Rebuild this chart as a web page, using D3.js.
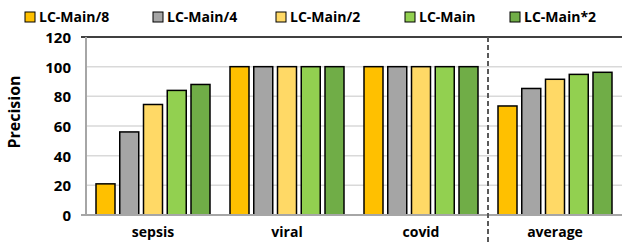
<!DOCTYPE html>
<html><head><meta charset="utf-8">
<script src="https://cdn.jsdelivr.net/npm/d3@7"></script>
<style>body{margin:0;background:#fff}svg{display:block}text{font-family:"Open Sans",sans-serif;font-weight:bold;fill:#000}</style>
</head><body><svg id="c" width="622" height="243"></svg>
<script>
const categories = ["sepsis","viral","covid","average"];
const seriesNames = ["LC-Main/8","LC-Main/4","LC-Main/2","LC-Main","LC-Main*2"];
const seriesColors = ["#FFC000","#A5A5A5","#FFD966","#92D050","#70AD47"];
const sepsis  = [21, 56, 74.5, 84, 88];
const viral   = [100, 100, 100, 100, 100];
const covid   = [100, 100, 100, 100, 100];
const average = [73.5, 85.3, 91.5, 94.8, 96.2];
const yTicks = [0, 20, 40, 60, 80, 100, 120];
const values = [sepsis, viral, covid, average];

const svg = d3.select("#c");
const L = 86, R = 622, T = 37, B = 215;
const x0 = d3.scaleBand().domain(categories).range([L, R]).padding(0);
const x1 = d3.scaleBand().domain(seriesNames).range([10, x0.bandwidth() - 10]).paddingInner(0.2);
const y = d3.scaleLinear().domain([0, 120]).range([B, T]);

// gridlines
svg.append("g").selectAll("line").data(yTicks.filter(t => t > 0 && t < 120)).join("line")
  .attr("x1", L).attr("x2", R).attr("y1", d => y(d)).attr("y2", d => y(d))
  .attr("stroke", "#d9d9d9").attr("stroke-width", 1.5);

// y tick labels via axis
const yAxis = svg.append("g").attr("transform", `translate(${L},0)`)
  .call(d3.axisLeft(y).tickValues(yTicks).tickSize(0).tickPadding(15));
yAxis.select(".domain").remove();
yAxis.selectAll("text").attr("font-size", 15).attr("font-family", "Open Sans").attr("font-weight", "bold").attr("fill", "#000").attr("dy", "0.36em");

// bars
const g = svg.append("g").selectAll("g").data(categories).join("g")
  .attr("transform", d => `translate(${x0(d)},0)`);
g.selectAll("rect").data((d, i) => values[i].map((v, j) => ({v, s: seriesNames[j], c: seriesColors[j]})))
  .join("rect")
  .attr("x", d => x1(d.s)).attr("width", x1.bandwidth())
  .attr("y", d => y(d.v)).attr("height", d => y(0) - y(d.v))
  .attr("fill", d => d.c).attr("stroke", "#000").attr("stroke-width", 1.5);

// frame: top dark line, left & bottom gray axes
svg.append("line").attr("x1", L - 5).attr("x2", R).attr("y1", T).attr("y2", T).attr("stroke", "#404040").attr("stroke-width", 2);
svg.append("line").attr("x1", L).attr("x2", L).attr("y1", T).attr("y2", B).attr("stroke", "#a6a6a6").attr("stroke-width", 2);
svg.append("line").attr("x1", L - 5).attr("x2", R).attr("y1", B).attr("y2", B).attr("stroke", "#a6a6a6").attr("stroke-width", 2);

// dashed separator before "average"
const sepX = x0("average");
svg.append("line").attr("x1", sepX).attr("x2", sepX).attr("y1", T).attr("y2", 243)
  .attr("stroke", "#595959").attr("stroke-width", 2).attr("stroke-dasharray", "5,3");

// x labels
svg.append("g").selectAll("text").data(categories).join("text")
  .attr("x", d => x0(d) + x0.bandwidth() / 2).attr("y", 237)
  .attr("text-anchor", "middle").attr("font-size", 14).text(d => d);

// y title
svg.append("text").attr("transform", "translate(20,112) rotate(-90)")
  .attr("text-anchor", "middle").attr("font-size", 16).text("Precision");

// legend
const legX = [25, 153, 276, 405, 510];
const lg = svg.append("g").selectAll("g").data(seriesNames).join("g")
  .attr("transform", (d, i) => `translate(${legX[i]},12)`);
lg.append("rect").attr("width", 10).attr("height", 10).attr("fill", (d, i) => seriesColors[i]).attr("stroke", "#000").attr("stroke-width", 1);
lg.append("text").attr("x", 14).attr("y", 10).attr("font-size", 14).text(d => d);
</script></body></html>
